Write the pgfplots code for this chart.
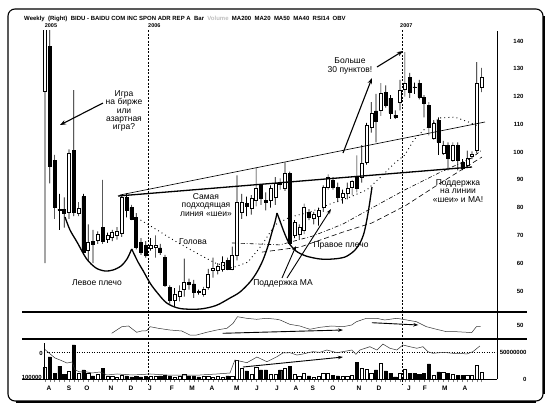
\documentclass[border=0pt]{standalone}
\usepackage{fontspec}
\setmainfont{Liberation Sans}
\usepackage{pgfplots}
\usepackage{pgfplotstable}
\pgfplotsset{compat=1.18}
\usetikzlibrary{arrows.meta}

\newcommand\annotfont{\fontsize{8.5}{8.4}\selectfont}
\newcommand\tickfont{\bfseries\fontsize{6}{7}\selectfont}

\pgfplotstableread{
i o h l c v
0 122 151 60 150 22
1 138 146 88.7 95 41
2 97 99 76 80 11
3 79.5 85 72 79 24
4 79.3 83.7 72.8 78 9
5 78.3 101 76 99.6 15
6 100.6 122.3 77 78.3 63
7 78 82 77 79.7 11
8 84 85 63 64 17
9 64.5 74 61 67.4 11
10 68 72 60 67 6
11 68.2 71.5 67 70.3 9
12 73 90 67 68 20
13 68.5 71 67.3 70 6
14 69.2 72 68 71 6
15 70 73 68.5 71.5 4
16 70.7 84.5 69.5 83.7 7
17 83.7 85.1 76.5 79 6
18 80 81 75.5 76 4
19 76.5 78 65 65.6 5
20 67.4 69 63 63.8 4
21 66.4 68 62 63 5
22 65.5 69 64.5 66.5 5
23 65.8 70 62 66.6 5
24 65.5 67 63 64 6
25 62 63 51.5 52 7
26 51.2 52 45.5 46.5 6
27 46.5 51 44.5 49 4
28 48 52 46.3 50 5
29 50.8 61.7 48 53 9
30 53 54.5 50.5 52.6 6
31 52.6 54 47.5 49.4 6
32 49.8 50.5 48.7 49.6 4
33 49 51.5 48 50.8 5
34 51.2 58 50.5 56.2 5
35 57.5 62 54.8 58.3 4
36 57.5 60 56 59 5
37 58 62.5 57 60.2 4
38 61 62 57.5 58 6
39 58 66 57.5 62.7 5
40 62.7 91.6 61 81.9 35
41 78.3 85 76 82 20
42 81.5 84 77 80.5 15
43 79.7 84.5 77.5 83.3 9
44 82.6 94.5 80.5 87 22
45 88 88.5 81 83.3 17
46 82.5 85.5 79 82 17
47 82.6 88 80 87 9
48 83.7 91 81 88.7 9
49 89 90.5 86.5 88.5 17
50 87 96.3 86 92.3 20
51 92.3 93 66.5 67.1 24
52 70 75.5 69 74.7 9
53 70.5 74 68.5 73 6
54 71.8 81.5 70.5 80 11
55 78.3 79.5 75.5 76.5 6
56 76.2 78.5 74 77.5 4
57 77 80 73.5 79 5
58 80 88 78.5 87.3 11
59 87.3 92 86.5 90.9 11
60 89.8 91 86.5 87.3 7
61 87.3 89 82 83.7 6
62 83.7 86.5 81.5 85.1 6
63 85.1 89 83 87 6
64 87.5 90 84.5 89.5 7
65 90.9 98.8 85.5 87 31
66 90.9 102.5 89 96 20
67 96.3 110.5 95.5 109.7 19
68 109 118 107 114 11
69 114.8 121 103.5 111 17
70 115 124.8 113 121.2 30
71 121.6 124 116 116.9 15
72 119.4 120.5 112 114 11
73 113.3 115 112 112.6 4
74 118 126 115 122.3 11
75 122.7 136 120 124.8 19
76 127 128.5 119.5 121.6 11
77 123.5 125 121 123.2 11
78 124.8 126 119 119.8 9
79 119.8 120.5 112.5 117.6 11
80 116.9 118 106 109 28
81 105 111.5 104.5 110.4 7
82 111.5 112.5 99 103.5 13
83 99.6 104 99 102.5 13
84 102.5 103.5 93.4 97.8 11
85 97 103.5 96.5 102.5 9
86 102.5 103.5 93.4 97 7
87 96.3 97.5 93.5 94.2 7
88 95.2 100.5 94.5 97.8 7
89 98.5 100.3 97.5 99.1 7
90 100.6 132.4 99.5 124.8 26
91 123.4 130.3 121.6 127 13
}\candles

\pgfplotstableread{
i p
19.17 76.3
23.33 72.0
27.08 68.0
32.29 63.0
35.42 60.1
38.96 58.3
42.29 60.4
45.21 66.6
47.92 73.8
51.04 76.6
55.21 78.4
60.0 81.7
63.54 83.8
67.08 86.4
69.79 90.7
72.92 96.1
75.0 99.0
76.88 104.4
78.96 108.0
82.29 112.3
85.42 112.6
88.33 110.8
90.21 109.4
}\matwenty

\pgfplotstableread{
i p
38.96 67.3
48.96 66.6
55.83 69.8
62.08 74.1
68.13 79.9
75.0 86.4
82.08 92.5
88.96 97.9
91.04 100.8
}\mafourty

\pgfplotstableread{
i p
45.21 64.0
53.13 65.8
62.08 71.2
68.13 74.5
75.0 80.6
82.08 88.5
91.04 98.2
}\mafifty

\pgfplotstableread{
i r
13.9 31.3
16.0 47.1
17.4 48.8
19.1 33.7
20.1 36.8
21.2 37.5
21.9 47.1
23.6 43.3
26.0 39.2
28.5 36.8
30.2 27.2
31.6 27.2
33.7 33.7
35.8 39.2
37.9 43.3
39.2 55.3
40.1 71.1
42.0 67.3
44.1 64.9
46.2 67.3
48.3 64.9
49.0 63.2
51.0 52.9
53.1 48.8
55.2 40.9
57.3 45.7
59.7 48.8
62.1 47.1
63.9 51.2
64.9 59.1
67.0 67.3
69.1 67.3
70.8 63.2
73.3 67.3
75.4 63.2
77.4 59.1
79.5 47.1
81.6 40.9
83.7 35.1
85.8 35.1
87.9 33.7
88.9 32.7
89.9 47.1
90.8 47.1
}\rsi

\pgfplotstableread{
i v
-0.15 55.6
0.83 48.2
2.08 38.9
3.13 35.2
4.58 29.6
5.63 31.5
6.25 16.7
7.29 13.0
8.75 13.0
9.79 11.1
11.46 13.0
12.92 7.4
15.0 9.3
18.33 7.4
21.88 9.3
25.42 7.4
28.75 7.4
32.29 7.4
35.83 9.3
38.54 11.1
39.58 35.2
42.08 30.2
44.17 40.7
46.25 32.0
48.33 41.3
49.58 48.2
51.04 48.7
52.5 44.4
53.75 46.3
55.83 50.6
57.29 49.4
58.75 53.7
60.83 48.7
62.08 50.6
63.96 53.7
64.79 45.7
65.63 53.7
67.71 59.8
69.17 53.7
70.42 64.8
71.88 56.9
73.33 53.7
74.58 63.0
76.04 59.8
77.5 56.9
78.75 59.8
79.79 50.6
80.83 47.6
82.29 48.7
83.75 48.7
85.0 47.6
86.46 47.6
87.92 46.3
89.17 50.6
90.63 61.1
}\obv

\pgfplotsset{
  base/.style={scale only axis, width=475pt, xmin=-4.8, xmax=94.2, anchor=south west},
  priceax/.style={base, at={(22pt,97pt)}, height=280pt, ymin=42.8, ymax=143.6},
}

\begin{document}
\begin{tikzpicture}
\path[use as bounding box] (0,0) rectangle (550pt,408pt);

% wicks
\begin{axis}[priceax, hide axis, ybar stacked, bar width=0.7pt]
\addplot[draw=none, fill=none] table[x=i, y=l]{\candles};
\addplot[fill=black, draw=none] table[x=i, y expr={\thisrow{h}-\thisrow{l}}]{\candles};
\end{axis}

% bodies
\begin{axis}[priceax, hide axis, ybar stacked, bar width=3pt]
\addplot[draw=none, fill=none] table[x=i, y expr={min(\thisrow{o},\thisrow{c})}]{\candles};
\addplot[fill=white, draw=black, line width=0.45pt] table[x=i, y expr={max(\thisrow{c}-\thisrow{o},0)}]{\candles};
\addplot[fill=black, draw=black, line width=0.45pt] table[x=i, y expr={max(\thisrow{o}-\thisrow{c},0)}]{\candles};
\end{axis}

% moving averages + price scale
\begin{axis}[priceax, axis x line=none, axis y line*=right,
  axis line style={line width=0.6pt},
  ytick={50,60,...,140}, major tick length=0pt,
  /pgf/number format/assume math mode=true,
  yticklabel style={font=\tickfont, anchor=east, xshift=30pt}]
\addplot[line width=0.9pt, dash pattern=on 0.9pt off 3.2pt] table[x=i,y=p]{\matwenty};
\addplot[line width=0.6pt, dash pattern=on 4pt off 2pt on 0.8pt off 2pt] table[x=i,y=p]{\mafourty};
\addplot[line width=0.6pt, dash pattern=on 5pt off 3pt] table[x=i,y=p]{\mafifty};
\end{axis}

% RSI panel
\begin{axis}[base, at={(22pt,70pt)}, height=25pt, ymin=20, ymax=80,
  axis x line=none, axis y line*=right, axis line style={line width=0.6pt},
  ytick={50}, major tick length=0pt,
  /pgf/number format/assume math mode=true,
  yticklabel style={font=\tickfont, anchor=east, xshift=30pt}, clip=false]
\addplot[line width=0.5pt, black!80] table[x=i,y=r]{\rsi};
\draw[line width=0.9pt, -{Stealth[length=5pt,width=3.5pt]}] (axis cs:37.0,31.3) -- (axis cs:62.1,39.2);
\draw[line width=0.9pt, -{Stealth[length=5pt,width=3.5pt]}] (axis cs:68.1,56.7) -- (axis cs:77.8,51.2);
\end{axis}

% Volume / OBV panel
\begin{axis}[base, at={(22pt,29pt)}, height=40pt, ymin=0, ymax=74.07,
  axis x line*=bottom, axis y line*=right, axis line style={line width=0.6pt},
  ytick={0,50}, yticklabels={0,50000000},
  ytick style={draw=none},
  yticklabel style={font=\tickfont, anchor=east, xshift=30pt},
  xtick={0,...,91}, xticklabels={}, tick align=outside, major tick length=3pt,
  x tick style={line width=0.4pt},
  extra x ticks={0.83,5.0,8.75,13.75,17.92,21.88,26.46,30.63,34.79,40.0,44.17,48.33,52.29,55.83,60.0,65.42,69.58,75.83,79.17,83.33,87.5},
  extra x tick labels={A,S,O,N,D,J,F,M,A,M,J,J,A,S,O,N,D,J,F,M,A},
  extra x tick style={major tick length=0pt},
  xticklabel style={font=\bfseries\fontsize{6.5}{7}\selectfont, yshift=-3pt},
  clip=false]
\draw[dash pattern=on 1pt off 1.5pt, line width=0.5pt] (axis cs:-0.2,50) -- (axis cs:94.2,50);
\addplot[ybar, bar width=3.2pt, bar shift=0pt, fill=white, draw=black, line width=0.45pt] table[x=i, y expr={(\thisrow{c}>=\thisrow{o})*\thisrow{v}}]{\candles};
\addplot[ybar, bar width=3.2pt, bar shift=0pt, fill=black, draw=black, line width=0.45pt] table[x=i, y expr={(\thisrow{c}<\thisrow{o})*\thisrow{v}}]{\candles};
\addplot[line width=0.5pt, black!80] table[x=i,y=v]{\obv};
\draw[line width=0.9pt, -{Stealth[length=5pt,width=3.5pt]}] (axis cs:41.25,22.2) -- (axis cs:62.08,40.7);
\end{axis}

% overlay in image pixel coordinates
\begin{axis}[at={(0pt,0pt)}, anchor=south west, scale only axis, width=550pt, height=408pt,
  xmin=0, xmax=550, ymin=0, ymax=408, y dir=reverse, hide axis, clip=false]
% frame
\draw[line width=1.1pt, rounded corners=7pt] (axis cs:8,9) rectangle (axis cs:543,401);
\draw[line width=1.6pt] (axis cs:544,16) -- (axis cs:544,394);
\draw[line width=1.6pt] (axis cs:16,402) -- (axis cs:536,402);
% panel separators
\draw[line width=1.6pt] (axis cs:22,312) -- (axis cs:527,312);
\draw[line width=1.3pt] (axis cs:22,339) -- (axis cs:527,339);
\draw[line width=0.6pt] (axis cs:44,343) -- (axis cs:44,379);
% year lines
\draw[line width=0.5pt, dash pattern=on 2pt off 1.5pt] (axis cs:148,30) -- (axis cs:148,384);
\draw[line width=0.5pt, dash pattern=on 2pt off 1.5pt] (axis cs:402,30) -- (axis cs:402,384);
\node[font=\bfseries\fontsize{5.5}{6}\selectfont] at (axis cs:51,26) {2005};
\node[font=\bfseries\fontsize{5.5}{6}\selectfont, anchor=west, inner sep=0pt] at (axis cs:148,26) {2006};
\node[font=\bfseries\fontsize{5.5}{6}\selectfont, anchor=west, inner sep=0pt] at (axis cs:400,26) {2007};
% title
\node[font=\bfseries\fontsize{6}{7}\selectfont, anchor=west, inner sep=0pt] at (axis cs:24,19)
  {Weekly\ \ (Right)\ \ BIDU - BAIDU COM INC\ SPON ADR REP A\ \ Bar\ \ \textcolor{black!25}{Volume}\ \ MA200\ \ MA20\ \ MA50\ \ MA40\ \ RSI14\ \ OBV};
% left volume labels
\node[font=\tickfont, anchor=east, inner sep=0pt] at (axis cs:43,353) {0};
\node[font=\tickfont, anchor=east, inner sep=0pt] at (axis cs:42,377) {100000};
% necklines
\draw[line width=1.3pt] (axis cs:118,196) -- (axis cs:472,167);
\draw[line width=0.6pt] (axis cs:120,195) -- (axis cs:485,122);
% head and shoulders outlines
\addplot[smooth, line width=1.3pt] coordinates {(65,217) (70,230) (77,242) (86.7,259) (96,268) (105,271) (113,270) (121,266) (127,259) (131.7,249)};
\addplot[smooth, line width=1.3pt] coordinates {(131.7,249) (138,262) (143.3,271) (150,283) (156.7,292) (166.7,303) (180,308.5) (200,309) (216,305.5) (230,298) (240,292) (250,282) (257,272) (263,260) (268,246) (272,232) (275,222) (277,213)};
\addplot[smooth, line width=1.3pt] coordinates {(277,213) (280,221) (284,232) (289,243) (296,251) (306,256) (320,259) (333,259) (345,257) (354,251) (360,243) (364,233) (367,219) (369.5,204) (372,187)};
% annotations
\node[font=\annotfont, align=center] at (axis cs:124,111) {Игра\\на бирже\\или\\азартная\\игра?};
\draw[line width=1.1pt, -{Stealth[length=6pt,width=4.5pt]}] (axis cs:103,103) -- (axis cs:60,125);
\node[font=\annotfont, align=center] at (axis cs:350,66) {Больше\\30 пунктов!};
\draw[line width=1.1pt, -{Stealth[length=6pt,width=4.5pt]}] (axis cs:343,153) -- (axis cs:372,78);
\draw[line width=1.1pt, -{Stealth[length=6pt,width=4.5pt]}] (axis cs:377,67) -- (axis cs:403,51);
\node[font=\annotfont, align=center] at (axis cs:206,205) {Самая\\подходящая\\линия «шеи»};
\node[font=\annotfont] at (axis cs:193,242) {Голова};
\node[font=\annotfont] at (axis cs:97,283) {Левое плечо};
\node[font=\annotfont] at (axis cs:341,245) {Правое плечо};
\node[font=\annotfont] at (axis cs:283,283) {Поддержка МА};
\draw[line width=0.9pt, -{Stealth[length=5pt,width=3.5pt]}] (axis cs:282,278) -- (axis cs:296,246);
\draw[line width=0.9pt, -{Stealth[length=5pt,width=3.5pt]}] (axis cs:287,278) -- (axis cs:331,209);
\node[font=\annotfont, align=center] at (axis cs:458,191) {Поддержка\\на линии\\«шеи» и МА!};
\end{axis}
\end{tikzpicture}
\end{document}
